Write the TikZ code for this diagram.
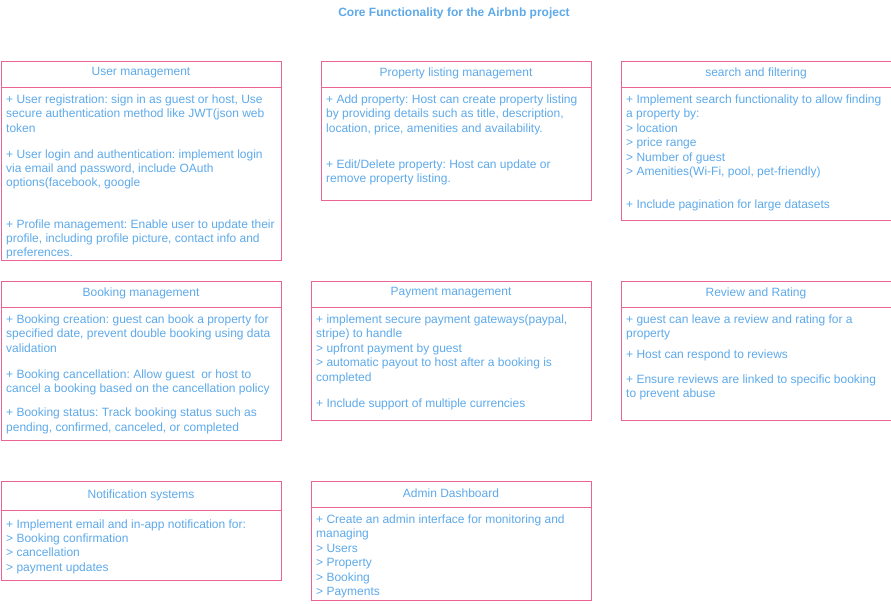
\documentclass[tikz,border=0pt]{standalone}
\usepackage{fontspec}
\setmainfont{Liberation Sans}
\frenchspacing
\definecolor{pinkline}{RGB}{236,100,150}
\definecolor{bluetext}{RGB}{93,169,233}
\begin{document}
\begin{tikzpicture}[x=1pt,y=-1pt,
  box/.style={draw=pinkline,line width=1pt,inner sep=0pt,anchor=north west},
  head/.style={text=bluetext,font=\fontsize{12}{14.4}\selectfont,inner sep=0pt},
  body/.style={text=bluetext,font=\fontsize{12}{14.4}\selectfont,inner sep=0pt,align=left,anchor=north west},
  titlestyle/.style={text=bluetext,font=\fontsize{12}{14.4}\selectfont\bfseries,inner sep=0pt},
  sep/.style={draw=pinkline,line width=1pt}]
\useasboundingbox (0,0) rectangle (891,603);

\node[titlestyle] (title) at (454,13) {Core Functionality for the Airbnb project};

% User management
\node[box,minimum width=280pt,minimum height=199.5pt] (um) at (0.5,60.5) {};
\draw[sep] ([yshift=-26.5pt]um.north west) -- ([yshift=-26.5pt]um.north east);
\node[head] (umh) at ([yshift=-12.6pt]um.north) {User management};
\node[body] (um1) at (6,93.2) {\strut+ User registration: sign in as guest or host, Use\\secure authentication method like JWT(json web\\token};
\node[body] (um2) at (6,147.9) {\strut+ User login and authentication: implement login\\via email and password, include OAuth\\options(facebook, google};
\node[body] (um3) at (6,217.9) {\strut+ Profile management: Enable user to update their\\profile, including profile picture, contact info and\\preferences.};

% Property listing management
\node[box,minimum width=270pt,minimum height=139.5pt] (pl) at (320.5,60.5) {};
\draw[sep] ([yshift=-26.5pt]pl.north west) -- ([yshift=-26.5pt]pl.north east);
\node[head] (plh) at ([yshift=-12.6pt]pl.north) {Property listing management};
\node[body] (pl1) at (326,93.2) {\strut+ Add property: Host can create property listing\\by providing details such as title, description,\\location, price, amenities and availability.};
\node[body] (pl2) at (326,157.9) {\strut+ Edit/Delete property: Host can update or\\remove property listing.};

% search and filtering
\node[box,minimum width=270pt,minimum height=159.5pt] (sf) at (620.5,60.5) {};
\draw[sep] ([yshift=-26.5pt]sf.north west) -- ([yshift=-26.5pt]sf.north east);
\node[head] (sfh) at ([yshift=-12.6pt]sf.north) {search and filtering};
\node[body] (sf1) at (626,93.2) {\strut+ Implement search functionality to allow finding\\a property by:\\> location\\> price range\\> Number of guest\\> Amenities(Wi-Fi, pool, pet-friendly)};
\node[body] (sf2) at (626,197.9) {\strut+ Include pagination for large datasets};

% Booking management
\node[box,minimum width=280pt,minimum height=159.5pt] (bm) at (0.5,280.5) {};
\draw[sep] ([yshift=-26.5pt]bm.north west) -- ([yshift=-26.5pt]bm.north east);
\node[head] (bmh) at ([yshift=-12.6pt]bm.north) {Booking management};
\node[body] (bm1) at (6,313.2) {\strut+ Booking creation: guest can book a property for\\specified date, prevent double booking using data\\validation};
\node[body] (bm2) at (6,367.9) {\strut+ Booking cancellation: Allow guest\ \ or host to\\cancel a booking based on the cancellation policy};
\node[body] (bm3) at (6,406.6) {\strut+ Booking status: Track booking status such as\\pending, confirmed, canceled, or completed};

% Payment management
\node[box,minimum width=280pt,minimum height=139.5pt] (pm) at (310.5,280.5) {};
\draw[sep] ([yshift=-26.5pt]pm.north west) -- ([yshift=-26.5pt]pm.north east);
\node[head] (pmh) at ([yshift=-12.6pt]pm.north) {Payment management};
\node[body] (pm1) at (316,313.2) {\strut+ implement secure payment gateways(paypal,\\stripe) to handle\\> upfront payment by guest\\> automatic payout to host after a booking is\\completed};
\node[body] (pm2) at (316,397.2) {\strut+ Include support of multiple currencies};

% Review and Rating
\node[box,minimum width=270pt,minimum height=139.5pt] (rr) at (620.5,280.5) {};
\draw[sep] ([yshift=-26.5pt]rr.north west) -- ([yshift=-26.5pt]rr.north east);
\node[head] (rrh) at ([yshift=-12.6pt]rr.north) {Review and Rating};
\node[body] (rr1) at (626,313.2) {\strut+ guest can leave a review and rating for a\\property};
\node[body] (rr2) at (626,347.9) {\strut+ Host can respond to reviews};
\node[body] (rr3) at (626,373.2) {\strut+ Ensure reviews are linked to specific booking\\to prevent abuse};

% Notification systems
\node[box,minimum width=280pt,minimum height=99.5pt] (ns) at (0.5,480.5) {};
\draw[sep] ([yshift=-29.5pt]ns.north west) -- ([yshift=-29.5pt]ns.north east);
\node[head] (nsh) at ([yshift=-15.2pt]ns.north) {Notification systems};
\node[body] (ns1) at (6,517.9) {\strut+ Implement email and in-app notification for:\\> Booking confirmation\\> cancellation\\> payment updates};

% Admin Dashboard
\node[box,minimum width=280pt,minimum height=119.5pt] (ad) at (310.5,480.5) {};
\draw[sep] ([yshift=-26.5pt]ad.north west) -- ([yshift=-26.5pt]ad.north east);
\node[head] (adh) at ([yshift=-12.6pt]ad.north) {Admin Dashboard};
\node[body] (ad1) at (316,513.2) {\strut+ Create an admin interface for monitoring and\\managing\\> Users\\> Property\\> Booking\\> Payments};
\end{tikzpicture}
\end{document}
